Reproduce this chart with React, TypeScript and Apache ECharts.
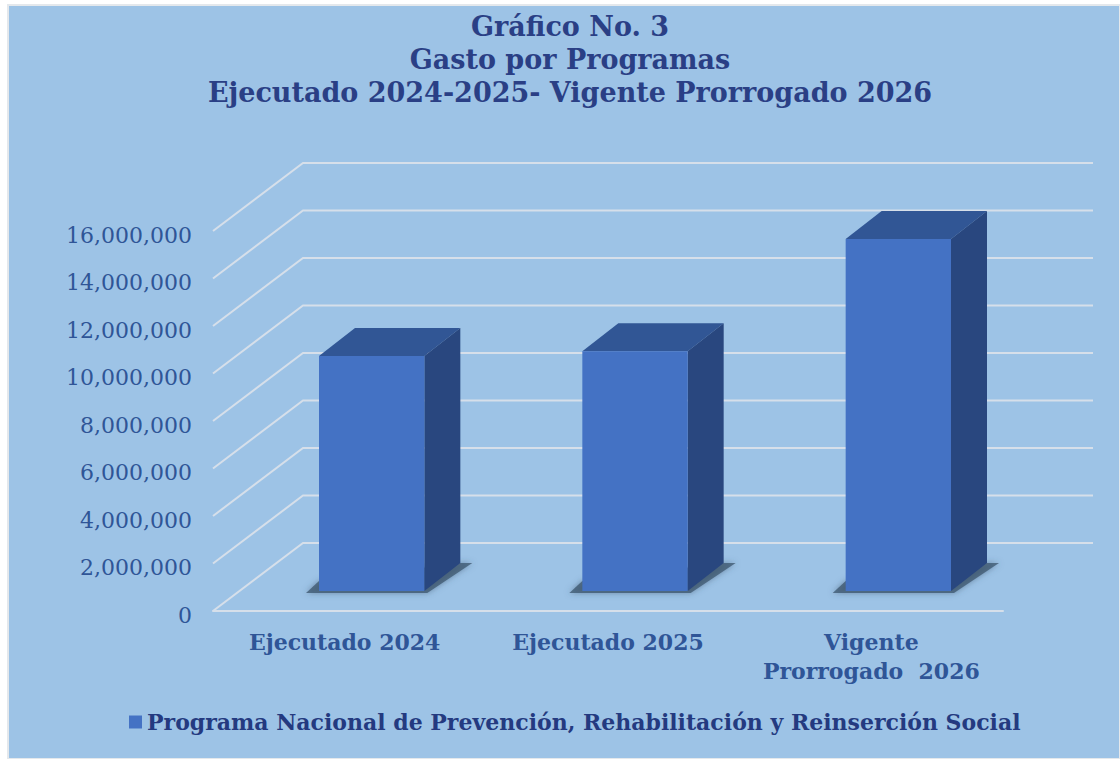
import React, { useEffect, useRef } from "react";
import * as echarts from "echarts";

const categories = ["Ejecutado 2024", "Ejecutado 2025", "Vigente\nProrrogado  2026"];
const programaValues = [9890000, 10100000, 14820000];
const yTicks = [0, 2000000, 4000000, 6000000, 8000000, 10000000, 12000000, 14000000, 16000000];
const seriesName = "Programa Nacional de Prevención, Rehabilitación y Reinserción Social";
const titleLines = ["Gráfico No. 3", "Gasto por Programas", "Ejecutado 2024-2025- Vigente Prorrogado 2026"];

const FONT = "'DejaVu Serif', serif";
const WALL_DX = 90;
const WALL_DY = -68;
const BAR_DX = 27;
const BAR_DY = -20;
const DEPTH_DX = 36;
const DEPTH_DY = -28;
const GRID_COLOR = "#D6DFEA";

export default function App() {
  const ref = useRef<HTMLDivElement>(null);
  useEffect(() => {
    const chart = echarts.init(ref.current!, null, { renderer: "svg" });
    chart.setOption({
      animation: false,
      backgroundColor: "#ffffff",
      graphic: {
        elements: [
          {
            type: "rect",
            shape: { x: 8, y: 5, width: 1112, height: 754 },
            style: { fill: "#9DC3E6", stroke: "#E4E8EC", lineWidth: 2 },
            silent: true,
          },
        ],
      },
      title: {
        text: titleLines.join("\n"),
        left: 565,
        top: 5,
        textAlign: "center",
        textStyle: { fontFamily: FONT, fontWeight: "bold", fontSize: 27, lineHeight: 33, color: "#2A3F85" },
      },
      legend: {
        left: 124,
        top: 706,
        icon: "rect",
        itemWidth: 13,
        itemHeight: 13,
        data: [{ name: seriesName }],
        textStyle: { fontFamily: FONT, fontWeight: "bold", fontSize: 22, color: "#243A80" },
      },
      grid: { left: 213, right: 117, top: 231, bottom: 148 },
      xAxis: {
        type: "category",
        data: categories,
        axisTick: { show: false },
        axisLine: { show: true, lineStyle: { color: GRID_COLOR, width: 2 } },
        axisLabel: {
          interval: 0,
          margin: 16,
          fontFamily: FONT,
          fontWeight: "bold",
          fontSize: 22,
          lineHeight: 29,
          color: "#2F5597",
        },
      },
      yAxis: {
        type: "value",
        min: 0,
        max: 16000000,
        interval: 2000000,
        axisLine: { show: false },
        axisTick: { show: false },
        splitLine: { show: false },
        axisLabel: {
          margin: 21,
          fontFamily: FONT,
          fontSize: 22,
          verticalAlign: "top",
          lineHeight: 8,
          color: "#2F5597",
          formatter: (v: number) => v.toLocaleString("en-US"),
        },
      },
      series: [
        {
          type: "custom",
          silent: true,
          z: 1,
          data: yTicks.map((v) => [0, v]),
          renderItem: (params: any, api: any) => {
            const y = api.coord([0, api.value(1)])[1];
            const x0 = params.coordSys.x;
            const x1 = x0 + params.coordSys.width;
            return {
              type: "polyline",
              shape: {
                points: [
                  [x0, y],
                  [x0 + WALL_DX, y + WALL_DY],
                  [x1 + WALL_DX, y + WALL_DY],
                ],
              },
              style: { stroke: GRID_COLOR, lineWidth: 2, fill: "none" },
            };
          },
        },
        {
          type: "custom",
          name: seriesName,
          z: 3,
          itemStyle: { color: "#4472C4" },
          data: programaValues.map((v, i) => [i, v]),
          renderItem: (_: any, api: any) => {
            const base = api.coord([api.value(0), 0]);
            const top = api.coord([api.value(0), api.value(1)]);
            const w = api.size([1, 0])[0] * 0.4;
            const l = base[0] + BAR_DX - w / 2;
            const r = l + w;
            const b = base[1] + BAR_DY;
            const t = top[1] + BAR_DY;
            return {
              type: "group",
              children: [
                {
                  type: "polygon",
                  shape: {
                    points: [
                      [l - 13, b + 2],
                      [l, b - 10],
                      [r + DEPTH_DX, b + DEPTH_DY],
                      [r + DEPTH_DX + 12, b + DEPTH_DY],
                      [r + 3, b + 2],
                    ],
                  },
                  style: { fill: "rgba(60,85,110,0.75)", shadowBlur: 6, shadowColor: "rgba(60,85,110,0.7)" },
                },
                {
                  type: "polygon",
                  shape: {
                    points: [
                      [l, t],
                      [l + DEPTH_DX, t + DEPTH_DY],
                      [r + DEPTH_DX, t + DEPTH_DY],
                      [r, t],
                    ],
                  },
                  style: { fill: "#315695" },
                },
                {
                  type: "polygon",
                  shape: {
                    points: [
                      [r, t],
                      [r + DEPTH_DX, t + DEPTH_DY],
                      [r + DEPTH_DX, b + DEPTH_DY],
                      [r, b],
                    ],
                  },
                  style: { fill: "#29477F" },
                },
                {
                  type: "rect",
                  shape: { x: l, y: t, width: w, height: b - t },
                  style: { fill: "#4472C4" },
                },
              ],
            };
          },
        },
      ],
    });
    return () => chart.dispose();
  }, []);
  return <div ref={ref} style={{ position: "fixed", left: 0, top: 0, width: 1120, height: 759 }} />;
}
